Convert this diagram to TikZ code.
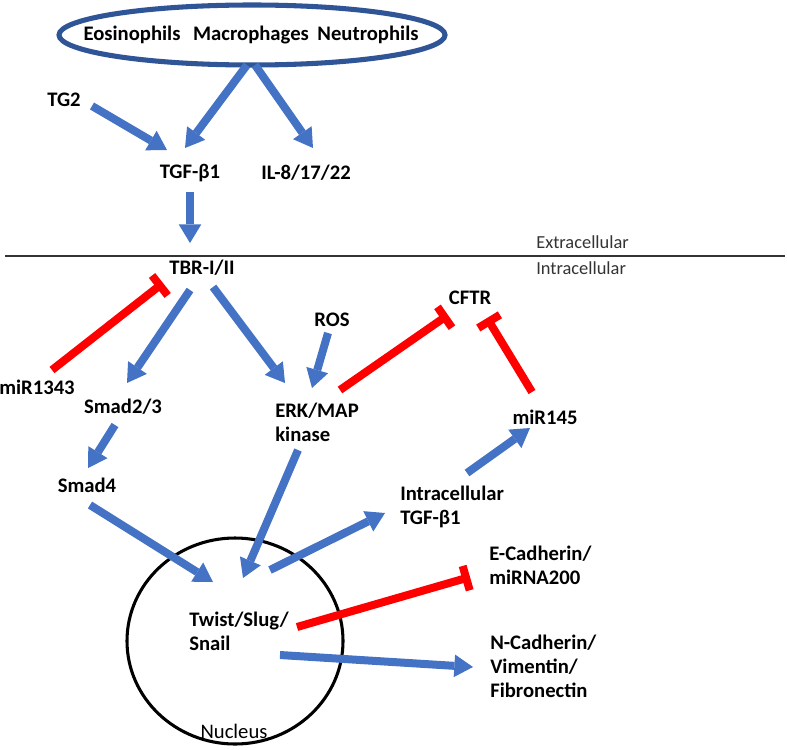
\documentclass[tikz,border=0pt]{standalone}
\usepackage{fontspec}
\setmainfont{Carlito}
\usetikzlibrary{arrows.meta}
\definecolor{ablue}{HTML}{4472C4}
\definecolor{ired}{HTML}{FF0000}
\definecolor{cellblue}{HTML}{2F5597}
\definecolor{txtgrey}{HTML}{333333}
\begin{document}
\begin{tikzpicture}[x=0.75pt,y=-0.75pt,
  lbl/.style={inner sep=0pt, font=\bfseries\fontsize{15.5pt}{18pt}\selectfont, align=left},
  thin lbl/.style={inner sep=0pt, font=\fontsize{13.8pt}{16pt}\selectfont, text=txtgrey},
  act/.style={draw=ablue, line width=6pt, -{Triangle[width=17pt,length=14pt,line width=0pt]}},
  inh/.style={draw=ired, line width=6pt, -{Bar[width=19pt]}}]
\useasboundingbox (0,0) rectangle (787,749);

% membrane
\coordinate (m1) at (5,256);
\coordinate (m2) at (785,256);
\draw[line width=1pt, txtgrey] (m1) -- (m2);
\node[thin lbl, anchor=west] (extra) at (536,242) {Extracellular};
\node[thin lbl, anchor=west] (intra) at (536,268) {Intracellular};

% cells
\draw[cellblue, line width=3.8pt] (252,35) ellipse [x radius=193, y radius=30];
\node[lbl] (eos) at (132,35) {Eosinophils};
\node[lbl] (mac) at (251,35) {Macrophages};
\node[lbl] (neu) at (368,35) {Neutrophils};

% nucleus
\draw[black, line width=2.3pt] (235,641) ellipse [x radius=108, y radius=103];
\node[inner sep=0pt, font=\fontsize{15.5pt}{18pt}\selectfont] (nuc) at (234,731) {Nucleus};

% labels
\node[lbl] (tg2) at (64,100) {TG2};
\node[lbl] (tgf) at (190,173) {TGF-β1};
\node[lbl] (il) at (306,173) {IL-8/17/22};
\node[lbl] (tbr) at (202,268) {TBR-I/II};
\node[lbl] (mir1343) at (37,387) {miR1343};
\node[lbl] (smad23) at (123,407) {Smad2/3};
\node[lbl] (ros) at (332,320) {ROS};
\node[lbl, anchor=west] (erk) at (275,422) {ERK/MAP\\kinase};
\node[lbl] (cftr) at (470,298) {CFTR};
\node[lbl] (mir145) at (545,417) {miR145};
\node[lbl] (smad4) at (87,485) {Smad4};
\node[lbl, anchor=west] (itgf) at (400,507) {Intracellular\\TGF-β1};
\node[lbl, anchor=west] (twist) at (189,631) {Twist/Slug/\\Snail};
\node[lbl, anchor=west] (ecad) at (489,565) {E-Cadherin/\\miRNA200};
\node[lbl, anchor=west] (ncad) at (490,666) {N-Cadherin/\\Vimentin/\\Fibronectin};

% connector end points
\coordinate (c1s) at (247,65);   \coordinate (c1e) at (185,148);
\coordinate (c2s) at (255,65);   \coordinate (c2e) at (313,148);
\coordinate (c3s) at (92,106);   \coordinate (c3e) at (167,150);
\coordinate (c4s) at (190,192);  \coordinate (c4e) at (190,243);
\coordinate (c5s) at (52,370);   \coordinate (c5e) at (163,283);
\coordinate (c6s) at (190,290);  \coordinate (c6e) at (127,383);
\coordinate (c7s) at (213,287);  \coordinate (c7e) at (285,383);
\coordinate (c8s) at (328,333);  \coordinate (c8e) at (312,388);
\coordinate (c9s) at (340,390);  \coordinate (c9e) at (448,315);
\coordinate (c10s) at (532,392); \coordinate (c10e) at (487,318);
\coordinate (c11s) at (115,425); \coordinate (c11e) at (88,468);
\coordinate (c12s) at (90,505);  \coordinate (c12e) at (213,582);
\coordinate (c13s) at (298,450); \coordinate (c13e) at (243,578);
\coordinate (c14s) at (270,570); \coordinate (c14e) at (385,513);
\coordinate (c15s) at (467,473); \coordinate (c15e) at (530,428);
\coordinate (c16s) at (297,627); \coordinate (c16e) at (470,577);
\coordinate (c17s) at (280,655); \coordinate (c17e) at (473,667);

\draw[act] (c1s) -- (c1e);
\draw[act] (c2s) -- (c2e);
\draw[act] (c3s) -- (c3e);
\draw[act] (c4s) -- (c4e);
\draw[inh] (c5s) -- (c5e);
\draw[act] (c6s) -- (c6e);
\draw[act] (c7s) -- (c7e);
\draw[act] (c8s) -- (c8e);
\draw[inh] (c9s) -- (c9e);
\draw[inh] (c10s) -- (c10e);
\draw[act] (c11s) -- (c11e);
\draw[act] (c12s) -- (c12e);
\draw[act] (c13s) -- (c13e);
\draw[act] (c14s) -- (c14e);
\draw[act] (c15s) -- (c15e);
\draw[inh] (c16s) -- (c16e);
\draw[act] (c17s) -- (c17e);
\end{tikzpicture}
\end{document}
